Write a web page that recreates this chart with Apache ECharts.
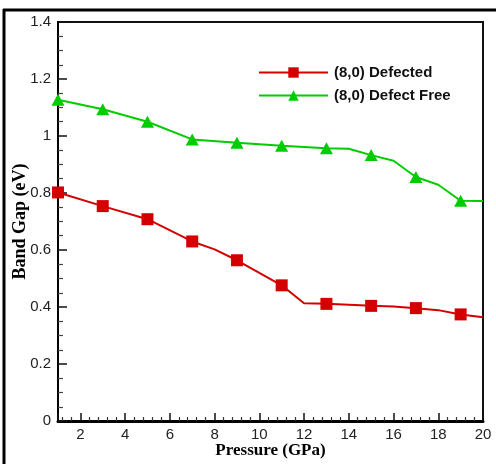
<!DOCTYPE html>
<html lang="en">
<head>
    <meta charset="UTF-8">
    <title>Band Gap vs Pressure</title>
    <script src="https://cdn.jsdelivr.net/npm/echarts@6/dist/echarts.min.js"></script>
    <style>
        html, body { margin: 0; padding: 0; background: #fff; }
        #container { width: 496px; height: 464px; }
    </style>
</head>
<body>
<div id="container"></div>
<script type="text/javascript">
// pressure (GPa) at each visible vertex of the curves
var defectedP = [1, 3, 5, 7, 8, 9, 11, 12, 13, 14, 15, 16, 17, 18, 19, 20];
var defectedGap = [0.802, 0.754, 0.708, 0.630, 0.602, 0.564, 0.476, 0.413, 0.411, 0.408, 0.404, 0.402, 0.396, 0.389, 0.374, 0.364];
var freeP = [1, 3, 5, 7, 9, 11, 13, 14, 15, 16, 17, 18, 19, 20];
var freeGap = [1.127, 1.094, 1.050, 0.988, 0.976, 0.966, 0.957, 0.955, 0.933, 0.913, 0.856, 0.829, 0.773, 0.772];
var seriesNames = ['(8,0) Defected', '(8,0) Defect Free'];

var dom = document.getElementById("container");
var myChart = echarts.init(dom);

// markers only sit on the odd pressures, the line passes through all vertices
function points(xs, ys, sym) {
    var out = [];
    for (var i = 0; i < xs.length; i++) {
        out.push({value: [xs[i], ys[i]], symbol: xs[i] % 2 === 1 ? sym : 'none'});
    }
    return out;
}

var option = {
    animation: false,
    grid: {
        left: 58, right: 13, top: 22, bottom: 43,
        outerBoundsMode: 'none',
        containLabel: false,
        show: true,
        borderColor: '#111',
        borderWidth: 2
    },
    legend: {
        orient: 'vertical',
        left: 253,
        top: 60,
        itemWidth: 69,
        itemHeight: 13,
        itemGap: 8,
        textStyle: {
            fontFamily: 'Liberation Sans',
            fontSize: 15,
            fontWeight: 'bold',
            color: '#111',
            padding: [0, 0, 0, 1]
        },
        data: seriesNames
    },
    xAxis: {
        type: 'value',
        min: 1,
        max: 20,
        splitNumber: 10,
        name: 'Pressure (GPa)',
        nameLocation: 'middle',
        nameGap: 21,
        nameMoveOverlap: false,
        nameTextStyle: {
            fontFamily: 'Liberation Serif',
            fontWeight: 'bold',
            fontSize: 17,
            color: '#000'
        },
        axisLine: {lineStyle: {color: '#000', width: 3}},
        axisTick: {inside: true, length: 8, lineStyle: {color: '#111', width: 1.5}},
        minorTick: {show: true, splitNumber: 5, length: 4, lineStyle: {color: '#333', width: 1.2}},
        splitLine: {show: false},
        axisLabel: {
            margin: 6,
            fontFamily: 'Liberation Sans',
            fontSize: 15,
            color: '#222',
            formatter: function (v) { return v % 2 === 0 ? String(v) : ''; }
        }
    },
    yAxis: {
        type: 'value',
        min: 0,
        max: 1.4,
        interval: 0.2,
        name: 'Band Gap (eV)',
        nameLocation: 'middle',
        nameGap: 29,
        nameMoveOverlap: false,
        nameTextStyle: {
            fontFamily: 'Liberation Serif',
            fontWeight: 'bold',
            fontSize: 18,
            color: '#000'
        },
        axisLine: {show: true, lineStyle: {color: '#000', width: 2}},
        axisTick: {show: true, inside: true, length: 9, lineStyle: {color: '#111', width: 1.5}},
        minorTick: {show: true, splitNumber: 4, length: 5, lineStyle: {color: '#444', width: 1.2}},
        splitLine: {show: false},
        axisLabel: {
            margin: 7,
            fontFamily: 'Liberation Sans',
            fontSize: 15,
            color: '#222'
        }
    },
    graphic: [
        {type: 'line', shape: {x1: 4, y1: 9, x2: 4, y2: 464}, style: {stroke: '#000', lineWidth: 3}},
        {type: 'line', shape: {x1: 3, y1: 10, x2: 496, y2: 10}, style: {stroke: '#000', lineWidth: 3}}
    ],
    series: [
        {
            name: seriesNames[0],
            type: 'line',
            symbol: 'rect',
            symbolSize: 12,
            showAllSymbol: true,
            lineStyle: {color: '#d40000', width: 2},
            itemStyle: {color: '#d40000'},
            data: points(defectedP, defectedGap, 'rect')
        },
        {
            name: seriesNames[1],
            type: 'line',
            symbol: 'triangle',
            symbolSize: [13, 12],
            showAllSymbol: true,
            lineStyle: {color: '#00cc00', width: 2},
            itemStyle: {color: '#00cc00'},
            data: points(freeP, freeGap, 'triangle')
        }
    ]
};

myChart.setOption(option, true);
</script>
</body>
</html>
